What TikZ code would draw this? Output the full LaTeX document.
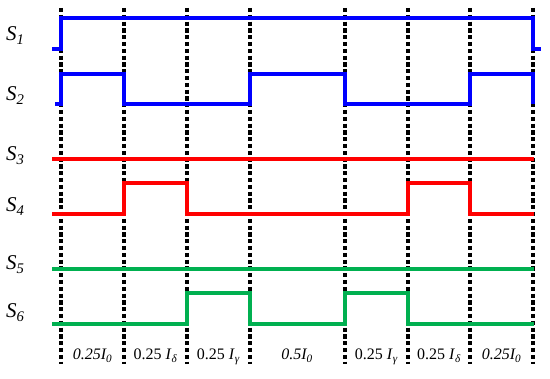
\documentclass[tikz,border=0pt]{standalone}
\usepackage{fontspec}
\setmainfont{Liberation Serif}
\usepackage{tikz}
\usetikzlibrary{positioning}
\definecolor{sigblue}{RGB}{0,0,255}
\definecolor{sigred}{RGB}{255,0,0}
\definecolor{siggreen}{RGB}{0,176,80}
\newcommand{\sw}[1]{\textit{S}\textsubscript{\textit{#1}}}

\begin{document}
\begin{tikzpicture}[x=1pt,y=-1pt,font=\fontsize{16}{18}\selectfont,
  wave/.style={line width=3.6pt,line join=miter},
  swlabel/.style={anchor=base west,inner sep=0pt,font=\fontsize{21}{23}\selectfont},
  seglabel/.style={anchor=base,inner sep=0pt}]
\useasboundingbox (0,0) rectangle (550,379);
% switching instants
\foreach \x in {61,124,187,250,345,408,470,533}
  \draw[line width=3.2pt,dash pattern=on 4.2pt off 2.6pt] (\x,8) -- (\x,364);
% S1, S2
\draw[wave,sigblue] (52,49) -- (61,49) -- (61,18) -- (533,18) -- (533,49) -- (541,49);
\draw[wave,sigblue] (55,104) -- (61,104) -- (61,74) -- (124,74) -- (124,104)
  -- (250,104) -- (250,74) -- (345,74) -- (345,104) -- (470,104) -- (470,74)
  -- (533,74) -- (533,104);
% S3, S4
\draw[wave,sigred] (52,159) -- (534,159);
\draw[wave,sigred] (52,214) -- (124,214) -- (124,183) -- (187,183) -- (187,214)
  -- (408,214) -- (408,183) -- (470,183) -- (470,214) -- (534,214);
% S5, S6
\draw[wave,siggreen] (52,269) -- (534,269);
\draw[wave,siggreen] (52,324) -- (187,324) -- (187,293) -- (250,293) -- (250,324)
  -- (345,324) -- (345,293) -- (408,293) -- (408,324) -- (534,324);
% labels
\node[swlabel] (s1) at (6,41) {\sw{1}};
\node[swlabel] (s2) at (6,101) {\sw{2}};
\node[swlabel] (s3) at (6,161) {\sw{3}};
\node[swlabel] (s4) at (6,212) {\sw{4}};
\node[swlabel] (s5) at (6,270) {\sw{5}};
\node[swlabel] (s6) at (6,318) {\sw{6}};
\node[seglabel] (t1) at (92.5,360) {\textit{0.25I\textsubscript{0}}};
\node[seglabel] (t2) at (155.5,360) {0.25 \textit{I}\textsubscript{\textit{δ}}};
\node[seglabel] (t3) at (218.5,360) {0.25 \textit{I}\textsubscript{\textit{γ}}};
\node[seglabel] (t4) at (297,360) {\textit{0.5I\textsubscript{0}}};
\node[seglabel] (t5) at (376.5,360) {0.25 \textit{I}\textsubscript{\textit{γ}}};
\node[seglabel] (t6) at (439,360) {0.25 \textit{I}\textsubscript{\textit{δ}}};
\node[seglabel] (t7) at (501.5,360) {\textit{0.25I\textsubscript{0}}};
\end{tikzpicture}
\end{document}
